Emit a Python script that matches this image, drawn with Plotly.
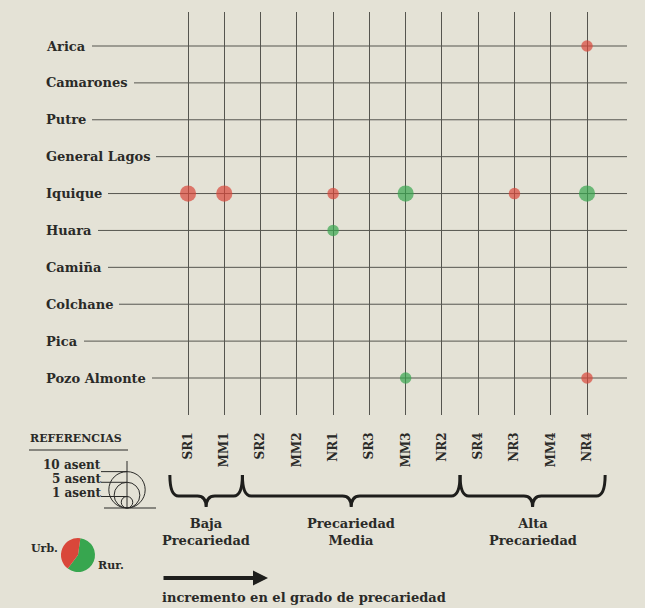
import math
import plotly.graph_objects as go

# ---------------- data ----------------
comunas = ["Arica", "Camarones", "Putre", "General Lagos", "Iquique", "Huara",
           "Camiña", "Colchane", "Pica", "Pozo Almonte"]
tipos = ["SR1", "MM1", "SR2", "MM2", "NR1", "SR3", "MM3", "NR2", "SR4", "NR3", "MM4", "NR4"]
grupos = ["Baja<br>Precariedad", "Precariedad<br>Media", "Alta<br>Precariedad"]
grupo_n_tipos = [2, 6, 4]

pt_comuna = ["Arica", "Iquique", "Iquique", "Iquique", "Iquique", "Iquique", "Iquique",
             "Huara", "Pozo Almonte", "Pozo Almonte"]
pt_tipo = ["NR4", "SR1", "MM1", "NR1", "MM3", "NR3", "NR4", "NR1", "MM3", "NR4"]
pt_asent = [1, 2, 2, 1, 2, 1, 2, 1, 1, 1]
pt_zona = ["Urb", "Urb", "Urb", "Urb", "Rur", "Urb", "Rur", "Rur", "Rur", "Urb"]

ref_asent = [10, 5, 1]
ref_labels = ["10 asent", "5 asent", "1 asent"]
ref_pie_labels = ["Rur.", "Urb."]
ref_share = [58, 42]

# ---------------- style ----------------
W, H = 645, 608
BG = "#e4e2d6"
GRID = "#55554f"
INK = "#2a2a28"
RED = "#d9473a"
GREEN = "#37a64f"
FONT = "DejaVu Serif"
K = 11.5  # marker diameter per sqrt(asentamientos)


def px(x):
    return x / W


def py(y):
    return 1 - y / H


# axis mapping (pixel geometry of the grid)
X0, X11 = 188, 587
DX = (X11 - X0) / 11
Y0, Y9 = 46, 378
DY = (Y9 - Y0) / 9
PL, PR, PT, PB = 50, 627, 12, 415
xr = [(PL - X0) / DX, (PR - X0) / DX]
yr = [(PB - Y0) / DY, (PT - Y0) / DY]

fig = go.Figure()

# horizontal row lines
hx, hy = [], []
for j, c in enumerate(comunas):
    hx += [xr[0], xr[1], None]
    hy += [j, j, None]
fig.add_trace(go.Scatter(x=hx, y=hy, mode="lines", line=dict(color=GRID, width=1),
                         hoverinfo="skip", showlegend=False))

# data markers
for zona, col in [("Urb", RED), ("Rur", GREEN)]:
    idx = [i for i, z in enumerate(pt_zona) if z == zona]
    fig.add_trace(go.Scatter(
        x=[tipos.index(pt_tipo[i]) for i in idx],
        y=[comunas.index(pt_comuna[i]) for i in idx],
        mode="markers",
        marker=dict(size=[K * math.sqrt(pt_asent[i]) for i in idx], color=col,
                    line=dict(width=0)),
        name=zona, showlegend=False, cliponaxis=False,
        text=[f"{pt_comuna[i]} {pt_tipo[i]}: {pt_asent[i]}" for i in idx],
        hoverinfo="text"))

# legend pie
fig.add_trace(go.Pie(values=ref_share, labels=ref_pie_labels, sort=False,
                     direction="clockwise", rotation=8,
                     marker=dict(colors=[GREEN, RED], line=dict(width=0)),
                     textinfo="none", hoverinfo="skip", showlegend=False,
                     domain=dict(x=[px(61), px(95)], y=[py(572), py(538)])))

annotations = []
shapes = []
tfont = dict(family=FONT, size=13, color=INK, weight="bold")
sfont = dict(family=FONT, size=11, color=INK, weight="bold")

# row labels (box covers the start of each row line)
for j, c in enumerate(comunas):
    annotations.append(dict(xref="paper", yref="y", x=px(40), y=j, xanchor="left",
                            yanchor="middle", text=c, showarrow=False, font=tfont,
                            bgcolor=BG, borderpad=6, borderwidth=0))

# group braces and labels
start = 0
for g, n in zip(grupos, grupo_n_tipos):
    xa = start - 0.5
    xb = start + n - 1 + 0.5
    xc = (xa + xb) / 2
    r = 0.24
    yt, ym, ytip = py(475), py(496), py(507)
    path = (f"M {xa},{yt} Q {xa},{ym} {xa + r},{ym} L {xc - r},{ym} "
            f"Q {xc},{ym} {xc},{ytip} Q {xc},{ym} {xc + r},{ym} "
            f"L {xb - r},{ym} Q {xb},{ym} {xb},{yt}")
    shapes.append(dict(type="path", xref="x", yref="paper", path=path,
                       line=dict(color="#1e1e1c", width=3)))
    annotations.append(dict(xref="x", yref="paper", x=xc, y=py(514), xanchor="center",
                            yanchor="top", text=g, showarrow=False, align="center",
                            font=tfont))
    start += n

# arrow + caption
annotations.append(dict(xref="paper", yref="paper", x=px(268), y=py(578), ax=-106, ay=0,
                        text="", showarrow=True, arrowhead=2, arrowsize=0.75,
                        arrowwidth=4, arrowcolor="#1e1e1c"))
annotations.append(dict(xref="paper", yref="paper", x=px(160), y=py(597), xanchor="left",
                        yanchor="middle", text="incremento en el grado de precariedad",
                        showarrow=False, font=tfont))

# REFERENCIAS block
annotations.append(dict(xref="paper", yref="paper", x=px(28), y=py(438), xanchor="left",
                        yanchor="middle", text="REFERENCIAS", showarrow=False, font=sfont))
shapes.append(dict(type="line", xref="paper", yref="paper", x0=px(29), x1=px(128),
                   y0=py(450), y1=py(450), line=dict(color=INK, width=1)))

CX, CB = 127, 508
text_y = [465, 479, 493]
for n, lab, ty in zip(ref_asent, ref_labels, text_y):
    d = K * math.sqrt(n)
    shapes.append(dict(type="circle", xref="paper", yref="paper",
                       x0=px(CX - d / 2), x1=px(CX + d / 2), y0=py(CB), y1=py(CB - d),
                       line=dict(color=INK, width=1)))
    shapes.append(dict(type="line", xref="paper", yref="paper", x0=px(101), x1=px(CX),
                       y0=py(CB - d), y1=py(CB - d), line=dict(color=INK, width=1)))
    annotations.append(dict(xref="paper", yref="paper", x=px(102), y=py(ty), xanchor="right",
                            yanchor="middle", text=lab, showarrow=False,
                            font=dict(family=FONT, size=12, color=INK, weight="bold"),
                            borderpad=0))
shapes.append(dict(type="line", xref="paper", yref="paper", x0=px(CX), x1=px(CX),
                   y0=py(461), y1=py(CB), line=dict(color=INK, width=1)))
shapes.append(dict(type="line", xref="paper", yref="paper", x0=px(104), x1=px(156),
                   y0=py(CB), y1=py(CB), line=dict(color=INK, width=1)))

annotations.append(dict(xref="paper", yref="paper", x=px(44), y=py(548), xanchor="center",
                        yanchor="middle", text="Urb.", showarrow=False, font=sfont))
annotations.append(dict(xref="paper", yref="paper", x=px(111), y=py(565), xanchor="center",
                        yanchor="middle", text="Rur.", showarrow=False, font=sfont))

fig.update_layout(
    width=W, height=H, margin=dict(l=0, r=0, t=0, b=0),
    paper_bgcolor=BG, plot_bgcolor=BG, showlegend=False,
    font=dict(family=FONT, color=INK),
    xaxis=dict(domain=[px(PL), px(PR)], range=xr, tickmode="array",
               tickvals=list(range(len(tipos))), ticktext=tipos, tickangle=-90,
               showgrid=True, gridcolor=GRID, gridwidth=1, zeroline=False,
               showline=False, ticks="", ticklabelstandoff=14,
               tickfont=dict(family=FONT, size=12, color=INK, weight="bold"),
               fixedrange=True),
    yaxis=dict(domain=[py(PB), py(PT)], range=yr, showgrid=False, zeroline=False,
               showticklabels=False, showline=False, fixedrange=True),
    annotations=annotations, shapes=shapes,
)

fig.write_html("out.html", config={"displayModeBar": False},
               post_script="document.body.style.margin='0';")
